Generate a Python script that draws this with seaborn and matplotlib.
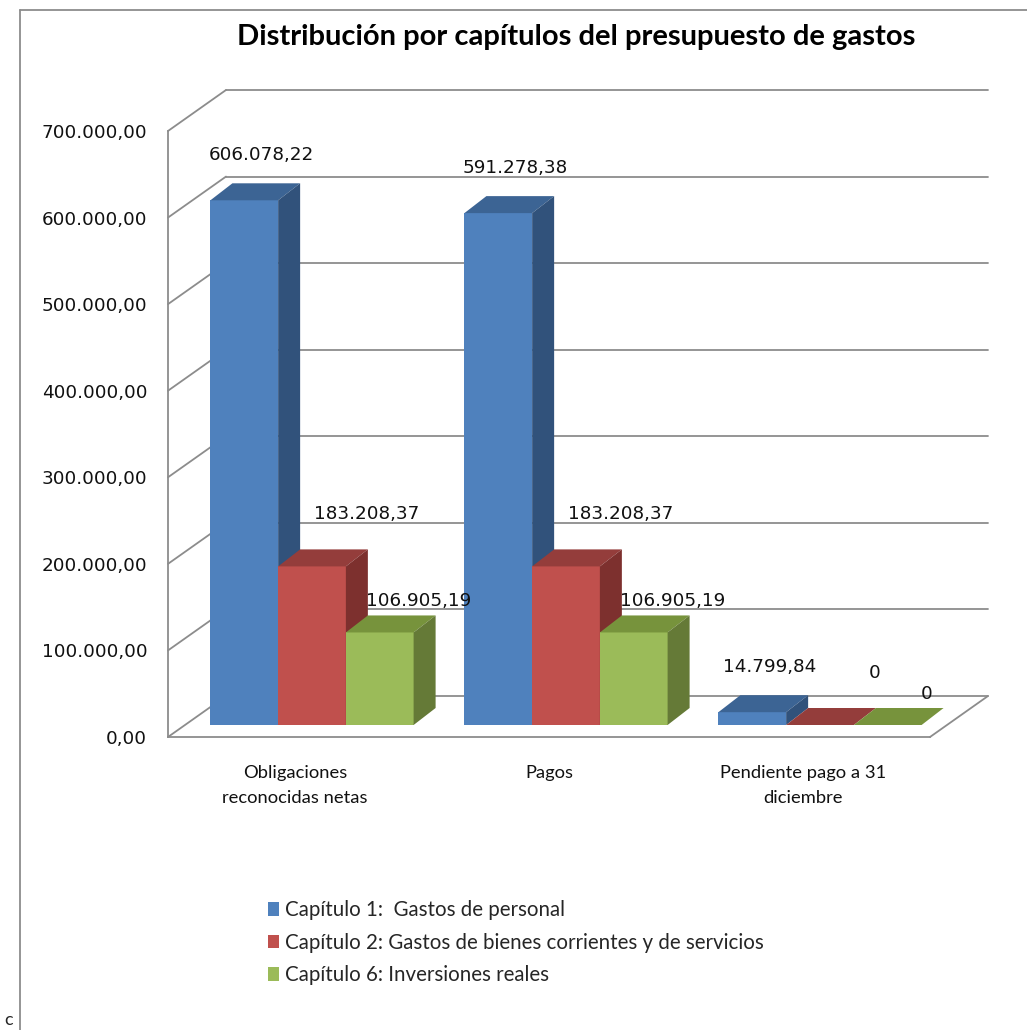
import numpy as np
import pandas as pd
import matplotlib
matplotlib.use("Agg")
import matplotlib.pyplot as plt
from matplotlib.patches import Polygon, Patch
from matplotlib.lines import Line2D
import seaborn as sns

# datos del grafico
conceptos = ["Obligaciones\nreconocidas netas", "Pagos", "Pendiente pago a 31\ndiciembre"]
capitulos = ["Capítulo 1:  Gastos de personal",
             "Capítulo 2: Gastos de bienes corrientes y de servicios",
             "Capítulo 6: Inversiones reales"]
cap1 = [606078.22, 591278.38, 14799.84]
cap2 = [183208.37, 183208.37, 0]
cap6 = [106905.19, 106905.19, 0]
yticks = [0, 100000, 200000, 300000, 400000, 500000, 600000, 700000]
titulo = "Distribución por capítulos del presupuesto de gastos"

# colores estilo Excel: frente, tapa, lateral
front_colors = ["#4F81BD", "#C0504D", "#9BBB59"]
top_colors = ["#3C6494", "#943D3B", "#77933C"]
side_colors = ["#31527B", "#7D302E", "#657A37"]
grid_color = "#8C8C8C"

# desplazamiento de las etiquetas de cada serie (px a la derecha, px arriba)
label_offsets = [(17, 45), (55, 52), (39, 31)]


def es_num(v, decimals=True):
    if v == 0 and not decimals:
        return "0"
    s = f"{v:,.2f}"
    return s.replace(",", "X").replace(".", ",").replace("X", ".")


df = pd.DataFrame({
    "concepto": conceptos * 3,
    "capitulo": np.repeat(capitulos, len(conceptos)),
    "importe": cap1 + cap2 + cap6,
})

sns.set_style("white")
plt.rcParams["font.family"] = ["Lato", "DejaVu Sans"]

W, H = 1027, 1030
fig = plt.figure(figsize=(W / 100, H / 100), dpi=100)
ax_l, ax_r, ax_t, ax_b = 168, 930, 131, 737
ax = fig.add_axes([ax_l / W, 1 - ax_b / H, (ax_r - ax_l) / W, (ax_b - ax_t) / H])
ax.patch.set_visible(False)

# px -> unidades de datos
sx = 3.0 / (ax_r - ax_l)
sy = 700000 / (ax_b - ax_t)
wall = (58 * sx, 41 * sy)
front = (17 * sx, 12 * sy)
back = (39 * sx, 29 * sy)

sns.barplot(data=df, x="concepto", y="importe", hue="capitulo",
            order=conceptos, hue_order=capitulos, palette=front_colors,
            saturation=1, width=0.8, errorbar=None, legend=False, ax=ax)

# pared del fondo, pared izquierda y suelo
for v in yticks:
    ax.plot([-0.5, -0.5 + wall[0]], [v, v + wall[1]], color=grid_color,
            lw=1.3, clip_on=False, zorder=1)
    ax.plot([-0.5 + wall[0], 2.5 + wall[0]], [v + wall[1]] * 2,
            color=grid_color, lw=1.3, clip_on=False, zorder=1)
ax.plot([2.5, 2.5 + wall[0]], [0, wall[1]], color=grid_color, lw=1.3,
        clip_on=False, zorder=1)

# barras en 3D: frente (seaborn) + tapa + lateral
bars = []
for p in ax.patches:
    fc = np.array(p.get_facecolor()[:3])
    k = int(np.argmin([np.abs(fc - np.array(matplotlib.colors.to_rgb(c))).sum()
                       for c in front_colors]))
    bars.append((p, k))
bars.sort(key=lambda b: b[0].get_x())

ddx, ddy = back[0] - front[0], back[1] - front[1]
for i, (p, k) in enumerate(bars):
    w, h = p.get_width(), p.get_height()
    x0 = p.get_x() + front[0]
    y0 = front[1]
    x1 = x0 + w
    p.set_x(x0)
    p.set_y(y0)
    p.set_linewidth(0)
    p.set_zorder(10 + i)
    p.set_clip_on(False)
    top = Polygon([(x0, y0 + h), (x1, y0 + h), (x1 + ddx, y0 + h + ddy), (x0 + ddx, y0 + h + ddy)],
                  closed=True, facecolor=top_colors[k], lw=0, zorder=10 + i, clip_on=False)
    ax.add_patch(top)
    if h > 0:
        side = Polygon([(x1, y0), (x1, y0 + h), (x1 + ddx, y0 + h + ddy), (x1 + ddx, y0 + ddy)],
                       closed=True, facecolor=side_colors[k], lw=0, zorder=10 + i, clip_on=False)
        ax.add_patch(side)
    ox, oy = label_offsets[k]
    ax.text(x0 + w / 2 + ox * sx, y0 + h + oy * sy, es_num(h, decimals=False),
            ha="center", va="center", fontsize=13.2, family="DejaVu Sans",
            color="#111111", zorder=50, clip_on=False)

ax.set_xlim(-0.5, 2.5)
ax.set_ylim(0, 700000)
ax.set_yticks(yticks)
ax.set_yticklabels([es_num(v) for v in yticks], fontsize=13.2, family="DejaVu Sans")
ax.set_xticks(range(len(conceptos)))
ax.set_xticklabels(conceptos, fontsize=13.2, linespacing=1.7)
ax.tick_params(axis="y", length=0, pad=15, colors="#111111")
ax.tick_params(axis="x", length=0, pad=20, colors="#111111")
ax.set_xlabel("")
ax.set_ylabel("")
ax.grid(False)
for s in ["top", "right"]:
    ax.spines[s].set_visible(False)
for s in ["left", "bottom"]:
    ax.spines[s].set_color(grid_color)
    ax.spines[s].set_linewidth(1.3)

fig.text(576 / W, 1 - 37 / H, titulo, ha="center", va="center",
         fontsize=21, fontweight="bold", color="#000000")

fig.legend(handles=[Patch(facecolor=c, edgecolor="none") for c in front_colors],
           labels=capitulos, loc="upper left", bbox_to_anchor=(268 / W, 1 - 900 / H),
           frameon=False, fontsize=14.8, handlelength=0.55, handleheight=0.65,
           handletextpad=0.3, labelspacing=0.62, borderpad=0, borderaxespad=0)

# marco del grafico
fig.add_artist(Line2D([20 / W, 20 / W], [0, 1 - 10 / H], color=grid_color, lw=1.3))
fig.add_artist(Line2D([20 / W, 1], [1 - 10 / H, 1 - 10 / H], color=grid_color, lw=1.3))
fig.text(4 / W, 2 / H, "c", ha="left", va="bottom", fontsize=13)

fig.savefig("out.png", dpi=100)
